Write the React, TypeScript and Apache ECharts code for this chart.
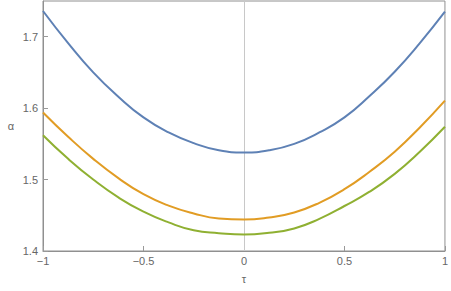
import React, { useEffect, useRef } from "react";
import * as echarts from "echarts";

const xs = [-1, -0.875, -0.75, -0.625, -0.5, -0.375, -0.25, -0.125, 0, 0.125, 0.25, 0.375, 0.5, 0.625, 0.75, 0.875, 1];
const blueVals = [1.736, 1.691, 1.65, 1.616, 1.587, 1.566, 1.551, 1.541, 1.538, 1.541, 1.55, 1.566, 1.587, 1.617, 1.651, 1.691, 1.735];
const orangeVals = [1.594, 1.56, 1.529, 1.502, 1.4795, 1.4635, 1.4526, 1.4455, 1.444, 1.447, 1.454, 1.4675, 1.4865, 1.511, 1.539, 1.573, 1.6106];
const greenVals = [1.562, 1.529, 1.5, 1.475, 1.455, 1.44, 1.429, 1.425, 1.423, 1.4255, 1.4316, 1.445, 1.463, 1.483, 1.508, 1.539, 1.574];

const pair = (vals: number[]) => xs.map((x, i) => [x, vals[i]]);

export default function App() {
  const ref = useRef<HTMLDivElement>(null);
  useEffect(() => {
    if (!ref.current) return;
    const chart = echarts.init(ref.current, undefined, { renderer: "svg" });
    const font = "Liberation Sans";
    const mkSeries = (name: string, vals: number[], color: string) => ({
      name,
      type: "line",
      data: pair(vals),
      smooth: true,
      showSymbol: false,
      symbol: "none",
      lineStyle: { color, width: 2 },
      z: 3,
    });
    chart.setOption({
      animation: false,
      grid: {
        left: 43,
        right: 4,
        top: 1,
        bottom: 40,
        show: true,
        borderColor: "#909090",
        borderWidth: 1,
      },
      xAxis: {
        type: "value",
        min: -1,
        max: 1,
        interval: 0.5,
        name: "τ",
        nameLocation: "middle",
        nameGap: 22,
        nameTextStyle: { color: "#666", fontSize: 11, fontFamily: font },
        axisLine: { show: true, onZero: false, lineStyle: { color: "#909090" } },
        axisTick: { show: true, inside: true, length: 5, lineStyle: { color: "#999" } },
        axisLabel: {
          color: "#666",
          fontSize: 11,
          fontFamily: font,
          margin: 4,
          formatter: (v: number) => String(v).replace("-", "\u2212"),
        },
        splitLine: { show: false },
      },
      yAxis: {
        type: "value",
        min: 1.4,
        max: 1.75,
        interval: 0.1,
        name: "α",
        nameLocation: "middle",
        nameRotate: 0,
        nameGap: 29,
        nameTextStyle: { color: "#666", fontSize: 11, fontFamily: font },
        axisLine: { show: true, onZero: false, lineStyle: { color: "#909090" } },
        axisTick: { show: true, inside: true, length: 5, lineStyle: { color: "#999" } },
        axisLabel: {
          color: "#666",
          fontSize: 11,
          fontFamily: font,
          margin: 5,
          showMaxLabel: false,
          formatter: (v: number) => v.toFixed(1),
        },
        splitLine: { show: false },
      },
      series: [
        {
          ...mkSeries("a", blueVals, "#5E81B5"),
          markLine: {
            silent: true,
            symbol: "none",
            label: { show: false },
            lineStyle: { color: "#c8c8c8", width: 1, type: "solid" },
            data: [{ xAxis: 0 }],
            z: 1,
          },
        },
        mkSeries("b", orangeVals, "#E19C24"),
        mkSeries("c", greenVals, "#8FB032"),
      ],
    });
    return () => chart.dispose();
  }, []);
  return <div ref={ref} style={{ width: 451, height: 291, position: "absolute", left: 0, top: 0 }} />;
}
